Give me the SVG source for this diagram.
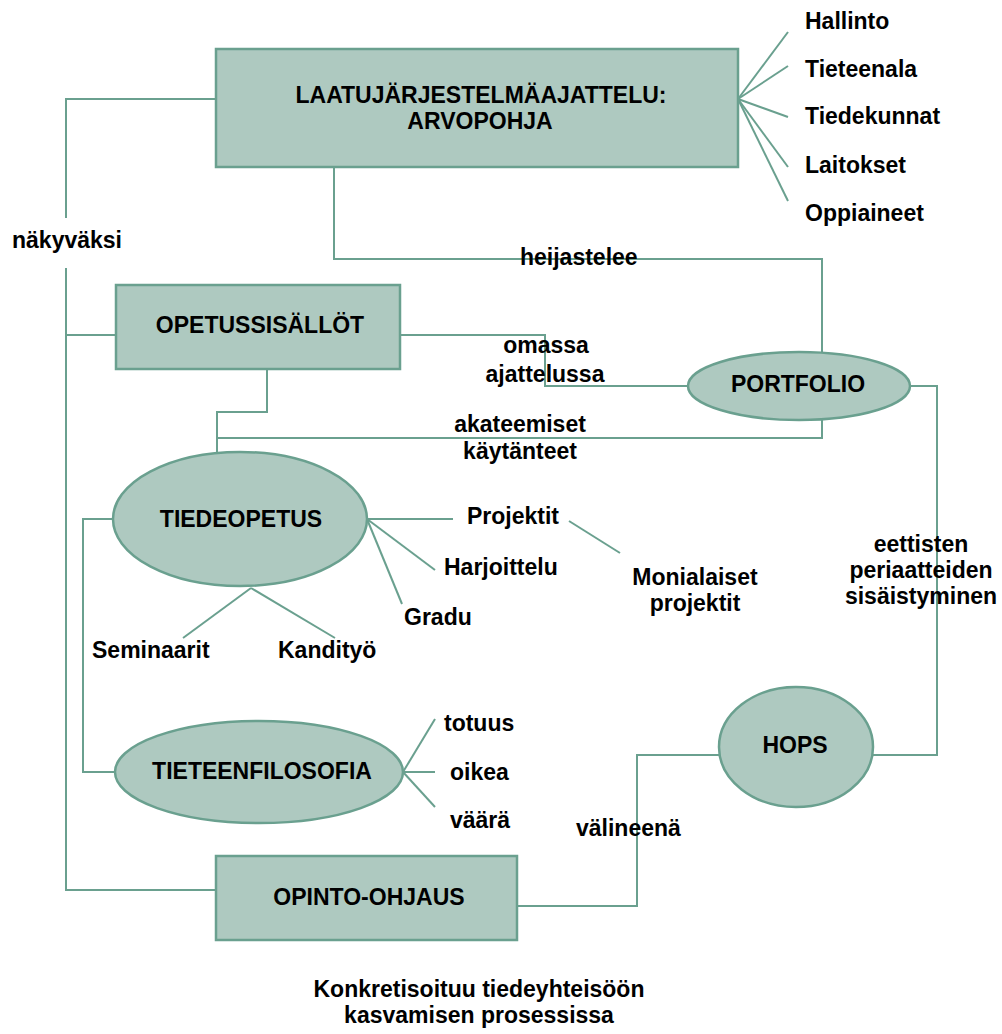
<svg xmlns="http://www.w3.org/2000/svg" width="1002" height="1034" viewBox="0 0 1002 1034">
  <style>
    .node { fill: #aec9c0; stroke: #6aa08f; stroke-width: 2.5; }
    .link { fill: none; stroke: #6aa08f; stroke-width: 2; }
    text { font-family: "Liberation Sans", Arial, sans-serif; font-weight: bold; font-size: 23px; fill: #000; }
    .mid { text-anchor: middle; }
  </style>
  <rect width="1002" height="1034" fill="#ffffff"/>

  <!-- connectors -->
  <g id="connectors">
    <polyline class="link" points="216,99 66,99 66,218"/>
    <polyline class="link" points="66,268 66,890 216,890"/>
    <polyline class="link" points="66,335 116,335"/>
    <polyline class="link" points="334,167 334,259 822,259 822,352"/>
    <line class="link" x1="738" y1="99" x2="788" y2="32"/>
    <line class="link" x1="738" y1="99" x2="788" y2="66"/>
    <line class="link" x1="738" y1="99" x2="788" y2="117"/>
    <line class="link" x1="738" y1="99" x2="788" y2="167"/>
    <line class="link" x1="738" y1="99" x2="788" y2="201"/>
    <polyline class="link" points="400,335 545,335 545,386 688,386"/>
    <polyline class="link" points="267,369 267,412 217,412 217,455"/>
    <polyline class="link" points="822,418 822,438 217,438"/>
    <polyline class="link" points="910,386 937,386 937,755 873,755"/>
    <polyline class="link" points="719,755 637,755 637,906 517,906"/>
    <polyline class="link" points="114,519 83,519 83,772 115,772"/>
    <line class="link" x1="367" y1="519" x2="453" y2="519"/>
    <line class="link" x1="367" y1="519" x2="435" y2="570"/>
    <line class="link" x1="367" y1="519" x2="402" y2="604"/>
    <line class="link" x1="251" y1="588" x2="183" y2="638"/>
    <line class="link" x1="251" y1="588" x2="335" y2="638"/>
    <line class="link" x1="569" y1="521" x2="620" y2="553"/>
    <line class="link" x1="403" y1="772" x2="435" y2="719"/>
    <line class="link" x1="403" y1="772" x2="435" y2="772"/>
    <line class="link" x1="403" y1="772" x2="435" y2="807"/>
  </g>

  <!-- nodes -->
  <g id="laatujarjestelma">
    <rect class="node" x="216" y="49" width="522" height="118"/>
    <text class="mid" x="481" y="103">LAATUJÄRJESTELMÄAJATTELU:</text>
    <text class="mid" x="480" y="129">ARVOPOHJA</text>
  </g>
  <g id="opetussisallot">
    <rect class="node" x="116" y="285" width="284" height="84"/>
    <text class="mid" x="260" y="333">OPETUSSISÄLLÖT</text>
  </g>
  <g id="portfolio">
    <ellipse class="node" cx="799" cy="386" rx="111" ry="34"/>
    <text class="mid" x="798" y="392">PORTFOLIO</text>
  </g>
  <g id="tiedeopetus">
    <ellipse class="node" cx="240" cy="519" rx="127" ry="67"/>
    <text class="mid" x="241" y="527">TIEDEOPETUS</text>
  </g>
  <g id="tieteenfilosofia">
    <ellipse class="node" cx="259" cy="772" rx="144" ry="51"/>
    <text class="mid" x="262" y="779">TIETEENFILOSOFIA</text>
  </g>
  <g id="hops">
    <ellipse class="node" cx="796" cy="747" rx="77" ry="60"/>
    <text class="mid" x="795" y="753">HOPS</text>
  </g>
  <g id="opinto-ohjaus">
    <rect class="node" x="216" y="856" width="301" height="84"/>
    <text class="mid" x="369" y="905">OPINTO-OHJAUS</text>
  </g>

  <!-- labels -->
  <g id="labels">
    <text x="805" y="29">Hallinto</text>
    <text x="805" y="77">Tieteenala</text>
    <text x="805" y="124">Tiedekunnat</text>
    <text x="805" y="173">Laitokset</text>
    <text x="805" y="221">Oppiaineet</text>
    <text x="12" y="248">näkyväksi</text>
    <text x="520" y="265">heijastelee</text>
    <text class="mid" x="546" y="353">omassa</text>
    <text class="mid" x="545" y="382">ajattelussa</text>
    <text class="mid" x="520" y="432">akateemiset</text>
    <text class="mid" x="520" y="459">käytänteet</text>
    <text x="467" y="524">Projektit</text>
    <text x="444" y="575">Harjoittelu</text>
    <text x="404" y="625">Gradu</text>
    <text x="92" y="658">Seminaarit</text>
    <text x="278" y="658">Kandityö</text>
    <text class="mid" x="695" y="585">Monialaiset</text>
    <text class="mid" x="695" y="611">projektit</text>
    <text class="mid" x="921" y="552">eettisten</text>
    <text class="mid" x="921" y="578">periaatteiden</text>
    <text class="mid" x="921" y="604">sisäistyminen</text>
    <text x="444" y="731">totuus</text>
    <text x="450" y="780">oikea</text>
    <text x="450" y="828">väärä</text>
    <text x="576" y="836">välineenä</text>
    <text class="mid" x="479" y="997">Konkretisoituu tiedeyhteisöön</text>
    <text class="mid" x="479" y="1023">kasvamisen prosessissa</text>
  </g>
</svg>
